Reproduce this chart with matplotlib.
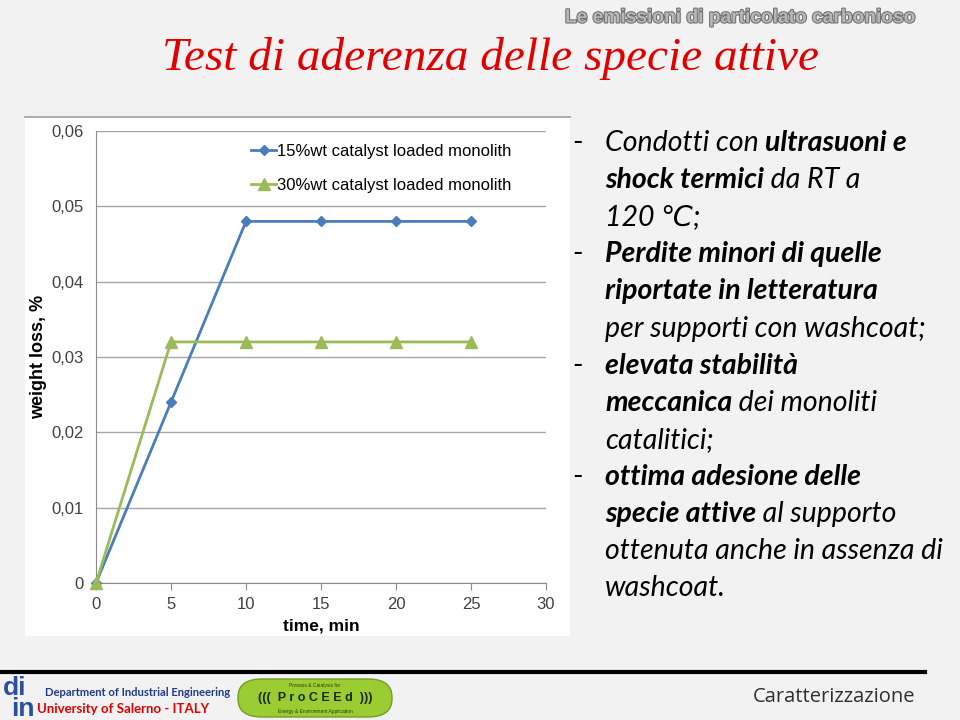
import matplotlib
matplotlib.use("Agg")
import matplotlib.pyplot as plt
import matplotlib.patheffects as pe
from matplotlib.patches import Rectangle, FancyBboxPatch
from matplotlib.ticker import FuncFormatter

# data
time_min = [0, 5, 10, 15, 20, 25]
loss_15 = [0, 0.024, 0.048, 0.048, 0.048, 0.048]
loss_30 = [0, 0.032, 0.032, 0.032, 0.032, 0.032]
label_15 = "15%wt catalyst loaded monolith"
label_30 = "30%wt catalyst loaded monolith"

# bullet lines: list of (text, bold) segments
bullets = [
    ["-", [[("Condotti con ", False), ("ultrasuoni e", True)],
           [("shock termici", True), (" da RT a", False)],
           [("120 \u2103;", False)]]],
    ["-", [[("Perdite minori di quelle", True)],
           [("riportate in letteratura", True)],
           [("per supporti con washcoat;", False)]]],
    ["-", [[("elevata stabilità", True)],
           [("meccanica", True), (" dei monoliti", False)],
           [("catalitici;", False)]]],
    ["-", [[("ottima adesione delle", True)],
           [("specie attive", True), (" al supporto", False)],
           [("ottenuta anche in assenza di", False)],
           [("washcoat.", False)]]],
]

W, H = 960, 720
fig = plt.figure(figsize=(9.6, 7.2), dpi=100)
fig.patch.set_facecolor("#f2f2f2")


def fx(px):
    return px / W


def fy(py):
    return 1 - py / H


# white chart panel
fig.add_artist(Rectangle((fx(25), fy(636)), fx(570) - fx(25), fy(117) - fy(636),
                         transform=fig.transFigure, facecolor="white", edgecolor="none", zorder=0))
fig.add_artist(plt.Line2D([fx(25), fx(570)], [fy(117), fy(117)], transform=fig.transFigure,
                          color="#a0a0a0", lw=1.2))

ax = fig.add_axes([fx(96), fy(583), fx(546) - fx(96), fy(131) - fy(583)])
ax.set_facecolor("white")
ax.plot(time_min, loss_15, color="#4a7ebb", lw=2, marker="D", ms=5.5, label=label_15, zorder=3,
        clip_on=False)
ax.plot(time_min, loss_30, color="#9bbb59", lw=2, marker="^", ms=8, label=label_30, zorder=3,
        clip_on=False)
ax.set_xlim(0, 30)
ax.set_ylim(0, 0.06)
ax.set_xticks(range(0, 31, 5))
ax.set_yticks([0, 0.01, 0.02, 0.03, 0.04, 0.05, 0.06])
ax.yaxis.set_major_formatter(FuncFormatter(lambda v, p: "0" if v == 0 else ("%.2f" % v).replace(".", ",")))
ax.grid(axis="y", color="#a6a6a6", lw=1)
ax.set_axisbelow(True)
for s in ["top", "right"]:
    ax.spines[s].set_visible(False)
for s in ["left", "bottom"]:
    ax.spines[s].set_color("#8c8c8c")
ax.tick_params(axis="y", length=0, pad=9, labelsize=12, labelcolor="#404040", labelfontfamily="Liberation Sans")
ax.tick_params(axis="x", length=5, direction="out", color="#8c8c8c", pad=5, labelsize=12,
               labelcolor="#404040", labelfontfamily="Liberation Sans")
ax.set_xlabel("time, min", fontsize=12.5, fontweight="bold", family="Liberation Sans", labelpad=5)
ax.set_ylabel("weight loss, %", fontsize=13, fontweight="bold", family="Liberation Sans", labelpad=3)
ax.legend(loc="upper right", bbox_to_anchor=((518 - 96) / 450, 0.987), borderaxespad=0,
          frameon=False, handlelength=1.5, handletextpad=0.05, labelspacing=1.15,
          prop={"family": "Liberation Sans", "size": 12})

# titles
fig.text(fx(915), fy(18), "Le emissioni di particolato carbonioso", ha="right", va="center",
         fontsize=13.8, fontweight="bold", family="Liberation Sans", color="#b8b8b8",
         path_effects=[pe.withStroke(linewidth=1.5, foreground="#6e6e6e")])
fig.text(fx(491), fy(58), "Test di aderenza delle specie attive", ha="center", va="center",
         fontsize=34, style="italic", family="Liberation Serif", color="#e00000")

# bullet text
fig.canvas.draw()
renderer = fig.canvas.get_renderer()
fam = ["Lato", "DejaVu Sans"]
fs = 20.5
y = 151
step = 37.1
for dash, lines in bullets:
    fig.text(fx(572), fy(y), dash, fontsize=fs, family=fam, va="baseline", color="black")
    for segs in lines:
        xpx = 605
        for txt, bold in segs:
            t = fig.text(fx(xpx), fy(y), txt, fontsize=fs, family=fam, style="italic",
                         fontweight="bold" if bold else "normal", va="baseline", color="black")
            xpx = t.get_window_extent(renderer).x1
        y += step

# footer
fig.add_artist(plt.Line2D([0, fx(925)], [fy(672), fy(672)], transform=fig.transFigure,
                          color="black", lw=3))
fig.text(fx(3), fy(688), "di", fontsize=19, fontweight="bold", family="Liberation Sans",
         color="#2b4ea0", va="center")
fig.text(fx(11), fy(709), "in", fontsize=19, fontweight="bold", family="Liberation Sans",
         color="#2b4ea0", va="center")
fig.text(fx(45), fy(692), "Department of Industrial Engineering", fontsize=8.1,
         fontweight="bold", family="Lato", color="#1f3c88", va="center")
fig.text(fx(37), fy(709), "University of Salerno - ITALY", fontsize=9.5,
         fontweight="bold", family="Lato", color="#e00000", va="center")
fig.add_artist(FancyBboxPatch((fx(238), fy(717)), fx(392) - fx(238), fy(679) - fy(717),
                              boxstyle="round,pad=0,rounding_size=0.025", transform=fig.transFigure,
                              facecolor="#9acd32", edgecolor="#7a9a2a", lw=1))
fig.text(fx(315), fy(685), "Process & Catalysis for", ha="center", va="center", fontsize=3.5,
         family="Liberation Sans", color="#2a3a10")
fig.text(fx(315), fy(698), "(((  P r o C E E d  )))", ha="center", va="center", fontsize=9,
         fontweight="bold", family="Liberation Sans", color="#1a2a05")
fig.text(fx(315), fy(711), "Energy & Environment Application", ha="center", va="center", fontsize=3.5,
         family="Liberation Sans", color="#2a3a10")
fig.text(fx(915), fy(697), "Caratterizzazione", ha="right", va="center", fontsize=14.5,
         family="Open Sans", color="#303030")

fig.savefig("out.png", dpi=100, facecolor=fig.get_facecolor())
